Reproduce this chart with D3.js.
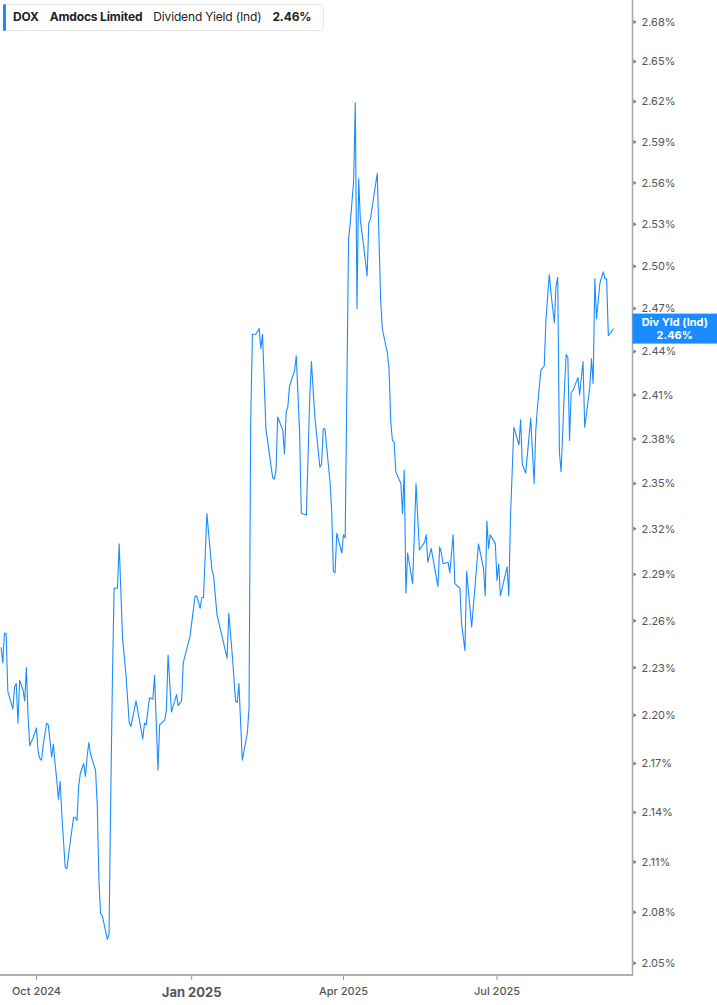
<!DOCTYPE html>
<html><head><meta charset="utf-8">
<script src="https://cdn.jsdelivr.net/npm/d3@7"></script>
<style>
html,body{margin:0;padding:0;background:#fff;}
svg{display:block;font-family:Inter,"Noto Sans",sans-serif;}
</style></head><body>
<svg id="chart" width="717" height="1005"></svg>
<script>
const dates = ["2024-09-10","2024-09-11","2024-09-12","2024-09-13","2024-09-14","2024-09-17","2024-09-18","2024-09-19","2024-09-20","2024-09-21",
"2024-09-23","2024-09-24","2024-09-25","2024-09-26","2024-09-27","2024-09-29","2024-10-01","2024-10-02","2024-10-03","2024-10-04",
"2024-10-05","2024-10-07","2024-10-08","2024-10-10","2024-10-11","2024-10-12","2024-10-13","2024-10-14","2024-10-15","2024-10-16",
"2024-10-18","2024-10-19","2024-10-21","2024-10-23","2024-10-24","2024-10-25","2024-10-26","2024-10-27","2024-10-29","2024-10-30",
"2024-10-31","2024-11-01","2024-11-02","2024-11-04","2024-11-05","2024-11-06","2024-11-07","2024-11-08","2024-11-09","2024-11-12",
"2024-11-13","2024-11-14","2024-11-15","2024-11-16","2024-11-18","2024-11-19","2024-11-21","2024-11-23","2024-11-25","2024-11-26",
"2024-11-29","2024-12-03","2024-12-04","2024-12-05","2024-12-07","2024-12-09","2024-12-10","2024-12-12","2024-12-13","2024-12-16",
"2024-12-17","2024-12-18","2024-12-20","2024-12-23","2024-12-24","2024-12-26","2024-12-27","2024-12-31","2025-01-03","2025-01-04",
"2025-01-06","2025-01-07","2025-01-08","2025-01-10","2025-01-13","2025-01-14","2025-01-16","2025-01-22","2025-01-23","2025-01-25",
"2025-01-27","2025-01-28","2025-01-29","2025-01-31","2025-02-03","2025-02-04","2025-02-05","2025-02-06","2025-02-08","2025-02-10",
"2025-02-11","2025-02-12","2025-02-14","2025-02-18","2025-02-19","2025-02-20","2025-02-21","2025-02-24","2025-02-25","2025-02-26",
"2025-02-27","2025-02-28","2025-03-03","2025-03-04","2025-03-06","2025-03-07","2025-03-10","2025-03-12","2025-03-13","2025-03-15",
"2025-03-18","2025-03-19","2025-03-20","2025-03-21","2025-03-24","2025-03-25","2025-03-26","2025-03-27","2025-03-28","2025-03-31",
"2025-04-01","2025-04-02","2025-04-04","2025-04-05","2025-04-07","2025-04-08","2025-04-09","2025-04-10","2025-04-11","2025-04-13",
"2025-04-15","2025-04-16","2025-04-17","2025-04-21","2025-04-23","2025-04-24","2025-04-27","2025-04-28","2025-04-29","2025-04-30",
"2025-05-01","2025-05-02","2025-05-05","2025-05-06","2025-05-07","2025-05-08","2025-05-09","2025-05-12","2025-05-14","2025-05-16",
"2025-05-19","2025-05-20","2025-05-21","2025-05-23","2025-05-27","2025-05-28","2025-05-29","2025-05-30","2025-06-02","2025-06-03",
"2025-06-05","2025-06-06","2025-06-09","2025-06-10","2025-06-12","2025-06-13","2025-06-16","2025-06-20","2025-06-23","2025-06-24",
"2025-06-25","2025-06-26","2025-06-27","2025-06-30","2025-07-01","2025-07-02","2025-07-03","2025-07-07","2025-07-08","2025-07-09",
"2025-07-11","2025-07-14","2025-07-15","2025-07-16","2025-07-18","2025-07-21","2025-07-23","2025-07-24","2025-07-25","2025-07-27",
"2025-07-29","2025-07-30","2025-08-01","2025-08-02","2025-08-04","2025-08-05","2025-08-06","2025-08-07","2025-08-08","2025-08-10",
"2025-08-11","2025-08-12","2025-08-13","2025-08-14","2025-08-15","2025-08-18","2025-08-19","2025-08-21","2025-08-22","2025-08-25",
"2025-08-26","2025-08-27","2025-08-28","2025-08-29","2025-08-31","2025-09-02","2025-09-03","2025-09-04","2025-09-05","2025-09-07",
"2025-09-08"];

const yields = [2.243,2.233,2.252,2.252,2.215,2.204,2.218,2.220,2.195,2.222,
2.216,2.209,2.230,2.199,2.181,2.186,2.192,2.177,2.173,2.172,
2.182,2.195,2.194,2.174,2.182,2.170,2.160,2.148,2.159,2.139,
2.107,2.106,2.122,2.137,2.137,2.135,2.156,2.164,2.170,2.162,
2.174,2.183,2.176,2.169,2.166,2.145,2.099,2.079,2.078,2.064,
2.067,2.149,2.222,2.281,2.281,2.310,2.249,2.226,2.195,2.193,
2.209,2.185,2.195,2.194,2.211,2.210,2.225,2.166,2.194,2.197,
2.203,2.238,2.202,2.213,2.206,2.209,2.233,2.250,2.276,2.276,
2.268,2.275,2.275,2.330,2.293,2.289,2.264,2.236,2.265,2.239,
2.209,2.208,2.220,2.172,2.189,2.205,2.393,2.452,2.452,2.456,
2.442,2.452,2.387,2.354,2.353,2.359,2.395,2.386,2.370,2.398,
2.402,2.416,2.427,2.437,2.384,2.330,2.329,2.409,2.433,2.395,
2.361,2.363,2.387,2.387,2.351,2.332,2.292,2.291,2.317,2.304,
2.316,2.314,2.519,2.531,2.561,2.619,2.470,2.563,2.533,2.514,
2.493,2.531,2.534,2.567,2.477,2.456,2.439,2.428,2.392,2.379,
2.378,2.358,2.350,2.330,2.359,2.278,2.304,2.284,2.350,2.306,
2.311,2.316,2.298,2.307,2.282,2.308,2.304,2.297,2.298,2.291,
2.316,2.284,2.281,2.258,2.241,2.292,2.256,2.310,2.294,2.276,
2.325,2.307,2.316,2.310,2.286,2.297,2.276,2.295,2.276,2.328,
2.388,2.376,2.393,2.363,2.357,2.394,2.350,2.386,2.402,2.427,
2.430,2.462,2.494,2.481,2.460,2.486,2.492,2.371,2.358,2.415,
2.438,2.436,2.379,2.412,2.413,2.422,2.410,2.433,2.388,2.415,
2.435,2.418,2.491,2.463,2.488,2.496,2.491,2.491,2.451,2.454,
2.456];

const yTicks = [2.05,2.08,2.11,2.14,2.17,2.20,2.23,2.26,2.29,2.32,2.35,2.38,2.41,2.44,2.47,2.50,2.53,2.56,2.59,2.62,2.65,2.68];
const xTickDates = ["2024-10-01","2025-01-01","2025-04-01","2025-07-01"];
const xTickLabels = ["Oct 2024","Jan 2025","Apr 2025","Jul 2025"];
const xTickMajor = [false,true,false,false];

const legendParts = [
  {text:"DOX", bold:true},
  {text:"Amdocs Limited", bold:true},
  {text:"Dividend Yield (Ind)", bold:false},
  {text:"2.46%", bold:true}
];
const lastLabel = ["Div Yld (Ind)", "2.46%"];

const parse = d3.timeParse("%Y-%m-%d");
const data = dates.map((d,i)=>({date:parse(d), v:yields[i]}));

const W = 717, H = 1005;
const axisX = 632.5, axisY = 975;
const blue = "#1a8cff";

const svg = d3.select("#chart");

const x = d3.scaleTime()
  .domain([parse("2024-10-01"), parse("2025-07-01")])
  .range([36.5, 497]);
const y = d3.scaleLog()
  .domain([2.05, 2.68])
  .range([963.3, 22]);

svg.append("defs").append("clipPath").attr("id","plotClip")
  .append("rect").attr("x",0).attr("y",0).attr("width",axisX).attr("height",axisY);

// line
const line = d3.line().x(d=>x(d.date)).y(d=>y(d.v));
svg.append("path").datum(data)
  .attr("clip-path","url(#plotClip)")
  .attr("fill","none").attr("stroke",blue).attr("stroke-width",1.1)
  .attr("stroke-linejoin","round")
  .attr("d", line);

// right axis
const yAxisG = svg.append("g");
yAxisG.append("line").attr("x1",axisX).attr("x2",axisX).attr("y1",0).attr("y2",axisY)
  .attr("stroke","#a8a8a8").attr("stroke-width",1.5);
const yt = yAxisG.selectAll("g.yt").data(yTicks).enter().append("g").attr("class","yt")
  .attr("transform", d=>`translate(${axisX},${y(d)})`);
yt.append("path").attr("d","M1,-2.2L4,0L1,2.2Z").attr("fill","#777");
yt.append("text").attr("x",9).attr("dy","0.35em")
  .attr("font-size",11).attr("fill","#555")
  .text(d=>d.toFixed(2)+"%");

// bottom axis
const xAxisG = svg.append("g");
xAxisG.append("line").attr("x1",0).attr("x2",axisX+0.75).attr("y1",axisY).attr("y2",axisY)
  .attr("stroke","#b0b0b0").attr("stroke-width",2);
const xt = xAxisG.selectAll("g.xt").data(xTickDates).enter().append("g").attr("class","xt")
  .attr("transform", d=>`translate(${x(parse(d))},${axisY})`);
xt.append("line").attr("y1",1).attr("y2",5).attr("stroke","#999").attr("stroke-width",1);
xt.append("text")
  .attr("text-anchor","middle")
  .attr("y",(d,i)=>xTickMajor[i]?22:20)
  .attr("font-size",(d,i)=>xTickMajor[i]?13:11)
  .attr("font-weight",(d,i)=>xTickMajor[i]?700:500)
  .attr("fill","#555")
  .text((d,i)=>xTickLabels[i]);

// last value label
const last = data[data.length-1];
const ly = y(last.v);
const lab = svg.append("g");
lab.append("rect").attr("x",axisX).attr("y",ly-15).attr("width",W-axisX).attr("height",30)
  .attr("fill",blue);
lab.append("text").attr("x",(axisX+W)/2).attr("y",ly-2.5).attr("text-anchor","middle")
  .attr("font-size",11).attr("font-weight",700).attr("fill","#fff").text(lastLabel[0]);
lab.append("text").attr("x",(axisX+W)/2).attr("y",ly+10).attr("text-anchor","middle")
  .attr("font-size",11).attr("font-weight",700).attr("fill","#fff").text(lastLabel[1]);

// legend
const leg = svg.append("g");
const legBox = leg.append("rect").attr("x",3.5).attr("y",4.5).attr("height",26).attr("rx",3)
  .attr("fill","#fff").attr("stroke","#e6e6e6");
leg.append("rect").attr("x",3).attr("y",4).attr("width",3).attr("height",27).attr("rx",1.5).attr("fill",blue);
let cx = 13;
const gaps = [11,11,11,0];
legendParts.forEach((p,i)=>{
  const t = leg.append("text").attr("x",cx).attr("y",21)
    .attr("font-size",12).attr("letter-spacing",-0.15)
    .attr("font-weight",p.bold?700:400).attr("fill","#222")
    .text(p.text);
  cx += t.node().getComputedTextLength() + gaps[i];
});
legBox.attr("width", cx - 3.5 + 12);
</script>
</body></html>
